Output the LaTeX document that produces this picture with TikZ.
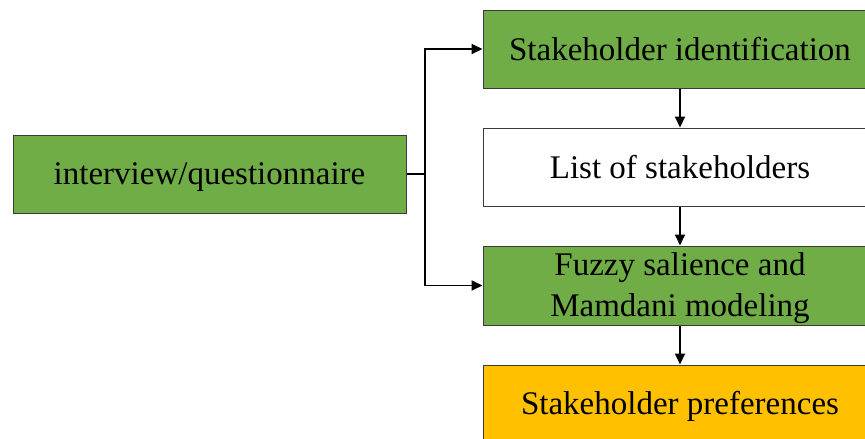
\documentclass[tikz,border=0pt]{standalone}
\usepackage{fontspec}
\setmainfont{Liberation Serif}
\usetikzlibrary{arrows.meta}
\definecolor{boxgreen}{HTML}{70AD47}
\definecolor{boxyellow}{HTML}{FFC000}
\definecolor{edgegray}{HTML}{3A3A3A}
% vertical struts that place the baselines evenly inside the boxes
\newcommand{\linestrut}{\rule[-7pt]{0pt}{36pt}}
\newcommand{\topstrut}{\rule{0pt}{28pt}}
\begin{document}
\begin{tikzpicture}[x=1pt,y=-1pt,
  box/.style={draw=edgegray, line width=1pt, minimum width=394pt, minimum height=78pt,
    inner sep=0pt, align=center, font=\fontsize{33}{41.5}\selectfont},
  greenbox/.style={box, fill=boxgreen},
  whitebox/.style={box, fill=white},
  yellowbox/.style={box, fill=boxyellow},
  link/.style={draw=black, line width=1.8pt, -{Triangle[length=11pt,width=10pt]}},
  plainlink/.style={draw=black, line width=1.8pt}]
  \useasboundingbox (0,0) rectangle (865,439);
  \clip (0,0) rectangle (865,439);

  \node[greenbox, minimum width=393pt] (src) at (209.5,174) {\linestrut interview/questionnaire};
  \node[greenbox] (ident) at (680,49) {\linestrut Stakeholder identification};
  \node[whitebox] (list) at (680,167) {\linestrut List of stakeholders};
  \node[greenbox, minimum height=79pt] (fuzzy) at (680,285.5) {\topstrut Fuzzy salience and\\Mamdani modeling};
  \node[yellowbox] (pref) at (680,404) {\linestrut Stakeholder preferences};

  \coordinate (split) at (425,174);
  \draw[plainlink] (src.east) -- (split);
  \draw[link] (split) |- (ident.west);
  \draw[link] (split) |- (fuzzy.west);
  \draw[link] (ident.south) -- (list.north);
  \draw[link] (list.south) -- (fuzzy.north);
  \draw[link] (fuzzy.south) -- (pref.north);
\end{tikzpicture}
\end{document}
